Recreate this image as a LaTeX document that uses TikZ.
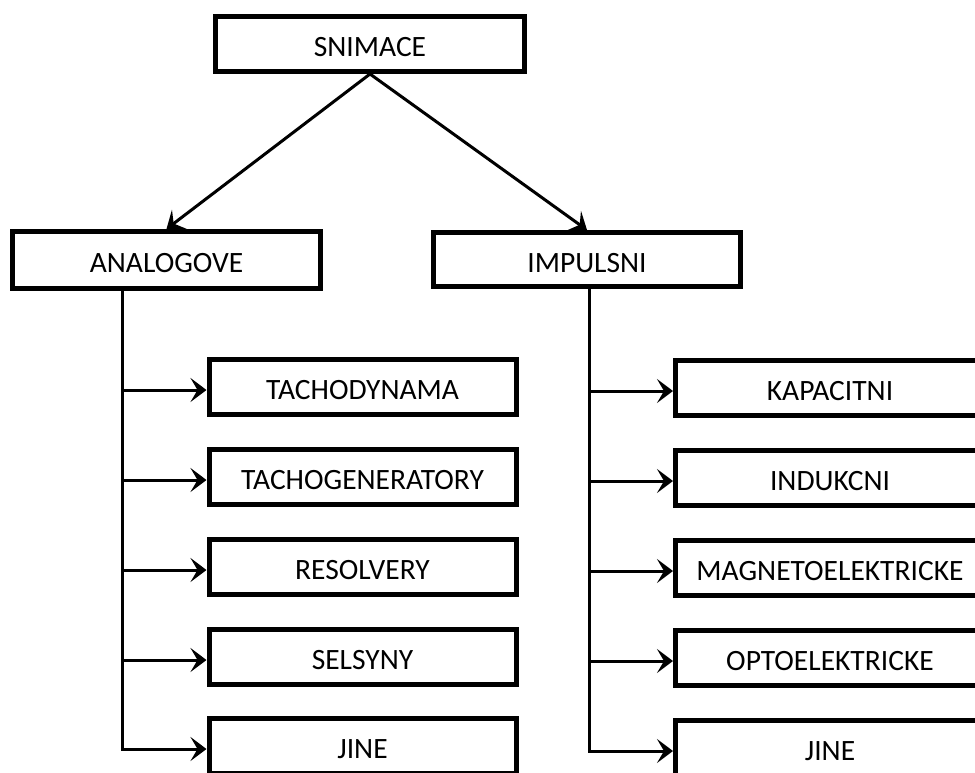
\documentclass[tikz,border=0pt]{standalone}
\usepackage{fontspec}
\setmainfont{Carlito}
\usetikzlibrary{arrows.meta,calc}
\begin{document}
\begin{tikzpicture}[x=1pt,y=-1pt,
  box/.style={draw, line width=5pt, minimum width=307pt, minimum height=55pt, inner sep=0pt,
              text height=25pt, text depth=0pt, font=\fontsize{29.5}{35}\selectfont},
  conn/.style={line width=3pt},
  arr/.style={line width=3pt, -{Stealth[length=16pt,width=24pt,inset=7pt]}}]
\useasboundingbox (0,0) rectangle (975,772);
\clip (0,0) rectangle (975,772);
% top level
\node[box, minimum width=309pt] (sn) at (370,44) {SNIMACE};
\node[box, minimum width=308pt, minimum height=57pt] (an) at (166.5,260) {ANALOGOVE};
\node[box, minimum width=307pt, minimum height=54pt] (im) at (587,259.5) {IMPULSNI};
% left leaves
\node[box] (l1) at (362.5,387) {TACHODYNAMA};
\node[box] (l2) at (362.5,477) {TACHOGENERATORY};
\node[box] (l3) at (362.5,567) {RESOLVERY};
\node[box] (l4) at (362.5,657) {SELSYNY};
\node[box] (l5) at (362.5,746) {JINE};
% right leaves
\node[box, minimum width=309pt] (r1) at (830,388) {KAPACITNI};
\node[box, minimum width=309pt] (r2) at (830,478) {INDUKCNI};
\node[box, minimum width=309pt] (r3) at (830,568) {MAGNETOELEKTRICKE};
\node[box, minimum width=309pt] (r4) at (830,658) {OPTOELEKTRICKE};
\node[box, minimum width=309pt] (r5) at (830,748) {JINE};
% top arrows
\draw[arr] (sn.south) -- (an.north);
\draw[arr] (sn.south) -- (im.north);
% vertical spines
\coordinate (lv) at (122,0);
\coordinate (rv) at (589,0);
\foreach \n in {l1,l2,l3,l4,l5,r1,r2,r3,r4,r5}{
  \coordinate (\n a) at ($(\n.west)+(0,3)$);
}
\draw[arr] (an.south -| lv) |- (l5a);
\foreach \n in {l1,l2,l3,l4}{
  \draw[arr] (lv |- \n a) -- (\n a);
}
\draw[arr] (im.south -| rv) |- (r5a);
\foreach \n in {r1,r2,r3,r4}{
  \draw[arr] (rv |- \n a) -- (\n a);
}
\end{tikzpicture}
\end{document}
